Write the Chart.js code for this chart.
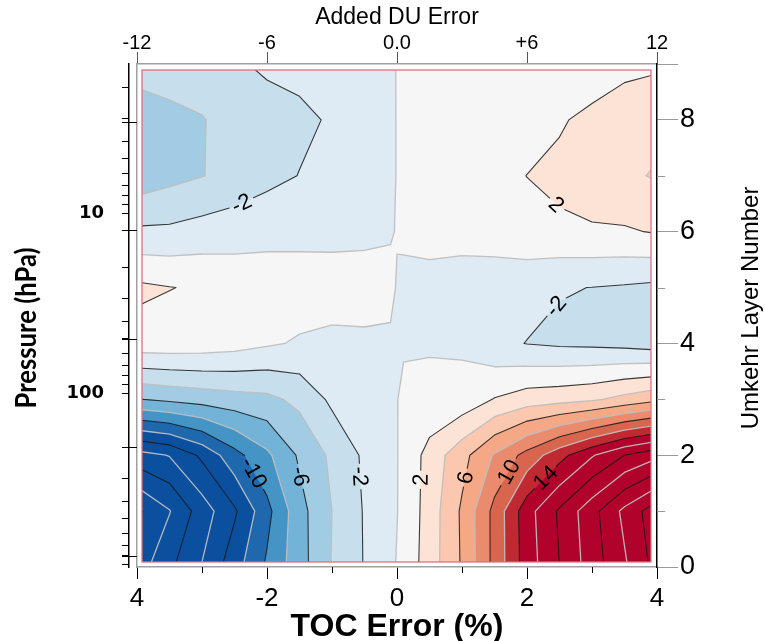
<!DOCTYPE html>
<html>
<head>
<meta charset="utf-8">
<script src="https://cdn.jsdelivr.net/npm/chart.js"></script>
<style>
html,body{margin:0;padding:0;background:#fff;}
canvas{display:block;}
</style>
</head>
<body>
<canvas id="c" width="765" height="641"></canvas>
<script>
// ---------------- data ----------------
const tocError = [-4,-3.5,-3,-2.5,-2,-1.5,-1,-0.5,-0.1,0,0.1,0.5,1,1.5,2,2.5,3,3.5,4];
const umkehrLayers = [0,1,2,3,4,5,6,7,8,9];
const layer0 = [-21.0,-18.4,-15.9,-12.8,-9.7,-6.8,-3.9,-1.9,-0.35,0.1,0.6,3.0,6.2,10.6,15.0,18.0,21.0,23.7,26.8];
const layer1 = [-22.4,-20.1,-17.0,-14.3,-10.6,-6.7,-4.0,-1.85,-0.4,-0.05,0.45,2.9,6.3,10.6,15.2,18.3,21.3,24.5,27.3];
const layer2 = [-16.8,-15.9,-13.6,-10.7,-8.4,-5.7,-3.6,-1.67,-0.4,-0.05,0.35,2.8,5.3,8.2,10.7,13.3,15.8,18.0,19.5];
const layer3 = [-6.1,-5.6,-5.2,-4.8,-4.5,-3.5,-1.6,-0.8,-0.25,-0.05,0.3,0.3,0.7,2.1,3.0,3.3,3.7,4.6,5.5];
const layer4 = [1.2,1.2,1.1,0.8,0.25,-0.2,-0.6,-0.5,-0.6,-0.4,-0.15,-0.1,-0.3,-1.5,-2.05,-2.3,-2.4,-2.6,-3.0];
const layer5 = [2.4,2.05,1.8,1.15,0.82,1.0,1.2,1.2,1.0,-0.3,-0.35,-0.4,-0.8,-1.1,-1.3,-1.9,-2.02,-2.2,-2.46];
const layer6 = [-1.64,-1.6,-1.2,-0.77,-0.46,-0.56,-0.7,-0.6,-0.3,0.2,0.25,0.4,0.6,0.9,1.3,1.65,1.75,1.8,2.14];
const layer7 = [-5.3,-4.6,-4.05,-3.5,-2.6,-1.95,-1.3,-0.9,-0.25,0.05,0.15,0.6,1.0,1.4,2.02,2.45,3.2,3.6,4.2];
const layer8 = [-4.8,-4.5,-4.1,-3.3,-3.0,-2.4,-1.8,-1.0,-0.25,0.05,0.15,0.5,0.8,1.1,1.2,1.8,2.5,3.0,3.4];
const layer9 = [-3.4,-3.1,-3.0,-2.3,-1.6,-1.45,-1.0,-0.7,-0.2,0.05,0.12,0.4,0.6,0.7,0.7,0.8,0.8,1.5,1.7];
const layerRows = [layer0,layer1,layer2,layer3,layer4,layer5,layer6,layer7,layer8,layer9];

const contourLevels = [-24,-22,-20,-18,-16,-14,-12,-10,-8,-6,-4,-2,0,2,4,6,8,10,12,14,16,18,20,22,24,26,28];
const contourLabels = [
  {level:-2, x:-2.37, layer:6.45},
  {level:2, x:2.45, layer:6.48},
  {level:-2, x:2.48, layer:4.63},
  {level:-10, x:-2.26, layer:1.65},
  {level:-6, x:-1.49, layer:1.62},
  {level:-2, x:-0.57, layer:1.62},
  {level:2, x:0.37, layer:1.56},
  {level:6, x:1.09, layer:1.59},
  {level:10, x:1.75, layer:1.68},
  {level:14, x:2.32, layer:1.56}
];

const duTicks = [-12,-6,0,6,12];
const duTickLabels = ['-12','-6','0.0','+6','12'];
const tocTicks = [-4,-2,0,2,4];
const tocTickLabels = ['4','-2','0','2','4'];
const tocMinorTicks = [-3,-1,1,3];
const layerTicks = [0,2,4,6,8,9];
const layerMinorTicks = [1,3,5,7];
const pressureTicks = [2,3,4,5,6,7,8,9,10,20,30,40,50,60,70,80,90,100,200,300,400,500,600,700,800,900];
const pressureLabels = [10,100];
const layerBoundaryPressures = [800,200,50,12.5,3.125];

// ---------------- styles ----------------
const bandPalette = {
  '-12':'#2068ad','-10':'#4494c6','-8':'#74b3d8','-6':'#a2cce3','-4':'#c7dfec','-2':'#deebf4',
  '0':'#f6f6f6','2':'#fde3d5','4':'#fbc7ae','6':'#f4a886','8':'#ea8b6d','10':'#d8664f','12':'#c02932'
};
function bandColor(t){
  if (t < -12) return '#0b4f9f';
  if (t >= 14) return '#b1022b';
  return bandPalette[String(t)];
}
function isBlackLevel(t){ return Math.abs(t % 4) === 2; }

Chart.defaults.color = '#000';
Chart.defaults.font.family = '"Liberation Sans", Arial, sans-serif';

const points = [];
umkehrLayers.forEach((L, j) => {
  tocError.forEach((x, i) => points.push({x: x, y: L, v: layerRows[j][i]}));
});

function clipCell(poly, t){
  const out = [], events = [];
  const n = poly.length;
  for (let k = 0; k < n; k++){
    const a = poly[k], b = poly[(k+1)%n];
    const ain = a.v >= t, bin = b.v >= t;
    if (ain) out.push(a);
    if (ain !== bin){
      const f = (t - a.v)/(b.v - a.v);
      const p = {x: a.x + f*(b.x-a.x), y: a.y + f*(b.y-a.y), v: t};
      out.push(p);
      events.push({exit: ain, p: p});
    }
  }
  const segs = [];
  const m = events.length;
  for (let k = 0; k < m; k++){
    if (events[k].exit){ segs.push([events[k].p, events[(k+1)%m].p]); }
  }
  return {out, segs};
}

function nearestOnSegs(segs, px, py){
  let best = null, bd = Infinity;
  for (const s of segs){
    const p = s[0], q = s[1];
    const dx = q.x-p.x, dy = q.y-p.y, L2 = dx*dx+dy*dy;
    let u = L2 > 0 ? ((px-p.x)*dx + (py-p.y)*dy)/L2 : 0;
    u = Math.max(0, Math.min(1, u));
    const x = p.x+u*dx, y = p.y+u*dy, d = (x-px)*(x-px)+(y-py)*(y-py);
    if (d < bd && L2 > 0.01){ bd = d; best = {x, y, a: Math.atan2(dy, dx)}; }
  }
  return best;
}

function frameOf(ca){ return {l: ca.left+5, r: ca.right-6, t: ca.top+6, b: ca.bottom-5}; }

const contourPlugin = {
  id: 'contours',
  beforeDraw(chart){
    const ctx = chart.ctx;
    ctx.save(); ctx.fillStyle = '#fff'; ctx.fillRect(0,0,chart.width,chart.height); ctx.restore();
  },
  beforeDatasetsDraw(chart){
    const ctx = chart.ctx;
    const xs = chart.scales.x, ys = chart.scales.yR;
    const fr = frameOf(chart.chartArea);
    const data = chart.data.datasets[0].data;
    const nx = tocError.length, ny = umkehrLayers.length;
    const P = (i,j) => { const d = data[j*nx+i]; return {x: xs.getPixelForValue(d.x), y: ys.getPixelForValue(d.y), v: d.v}; };
    const G = [];
    for (let j = 0; j < ny; j++){ G.push([]); for (let i = 0; i < nx; i++) G[j].push(P(i,j)); }

    ctx.save();
    ctx.beginPath(); ctx.rect(fr.l, fr.t, fr.r-fr.l, fr.b-fr.t); ctx.clip();
    ctx.fillStyle = bandColor(-Infinity);
    ctx.fillRect(fr.l, fr.t, fr.r-fr.l, fr.b-fr.t);

    const segsByLevel = {};
    for (const t of contourLevels){
      ctx.beginPath();
      const segs = [];
      for (let j = 0; j < ny-1; j++){
        for (let i = 0; i < nx-1; i++){
          const poly = [G[j][i], G[j][i+1], G[j+1][i+1], G[j+1][i]];
          const r = clipCell(poly, t);
          if (r.out.length >= 3){
            ctx.moveTo(r.out[0].x, r.out[0].y);
            for (let k = 1; k < r.out.length; k++) ctx.lineTo(r.out[k].x, r.out[k].y);
            ctx.closePath();
          }
          for (const s of r.segs) segs.push(s);
        }
      }
      ctx.fillStyle = bandColor(t);
      ctx.fill();
      segsByLevel[t] = segs;
    }

    // label placement
    const labelFont = '22px "Liberation Sans", Arial, sans-serif';
    ctx.font = labelFont;
    const placed = [];
    for (const lab of contourLabels){
      const segs = segsByLevel[lab.level] || [];
      const nb = nearestOnSegs(segs, xs.getPixelForValue(lab.x), ys.getPixelForValue(lab.layer));
      if (!nb) continue;
      let a = nb.a;
      while (a > Math.PI/2) a -= Math.PI;
      while (a <= -Math.PI/2) a += Math.PI;
      const txt = String(lab.level);
      placed.push({x: nb.x, y: nb.y, a: a, txt: txt, w: ctx.measureText(txt).width, h: 17});
    }

    // contour lines with gaps under labels
    ctx.save();
    ctx.beginPath();
    ctx.rect(fr.l-2, fr.t-2, fr.r-fr.l+4, fr.b-fr.t+4);
    for (const L of placed){
      const hw = L.w/2 + 3, hh = L.h/2;
      const c = Math.cos(L.a), s = Math.sin(L.a);
      const pts = [[-hw,-hh],[hw,-hh],[hw,hh],[-hw,hh]].map(q => [L.x + q[0]*c - q[1]*s, L.y + q[0]*s + q[1]*c]);
      ctx.moveTo(pts[0][0], pts[0][1]);
      for (let k = 1; k < 4; k++) ctx.lineTo(pts[k][0], pts[k][1]);
      ctx.closePath();
    }
    ctx.clip('evenodd');
    ctx.lineCap = 'round'; ctx.lineJoin = 'round';
    for (const t of contourLevels){
      const segs = segsByLevel[t];
      if (!segs || !segs.length) continue;
      ctx.beginPath();
      for (const s of segs){ ctx.moveTo(s[0].x, s[0].y); ctx.lineTo(s[1].x, s[1].y); }
      if (isBlackLevel(t)){ ctx.strokeStyle = 'rgba(25,25,25,0.85)'; ctx.lineWidth = 1.1; }
      else { ctx.strokeStyle = 'rgba(190,190,190,0.95)'; ctx.lineWidth = 1.3; }
      ctx.stroke();
    }
    ctx.restore();

    // labels
    ctx.fillStyle = '#000';
    ctx.font = labelFont;
    ctx.textAlign = 'center'; ctx.textBaseline = 'middle';
    for (const L of placed){
      ctx.save(); ctx.translate(L.x, L.y); ctx.rotate(L.a); ctx.fillText(L.txt, 0, 1); ctx.restore();
    }
    ctx.restore();

    // frame
    ctx.save();
    ctx.strokeStyle = '#e07080'; ctx.lineWidth = 1.3;
    ctx.strokeRect(fr.l, fr.t, fr.r-fr.l, fr.b-fr.t);
    ctx.restore();
  },
  afterDraw(chart){
    const ctx = chart.ctx, ca = chart.chartArea;
    const xs = chart.scales.x, yR = chart.scales.yR, yP = chart.scales.yP;
    ctx.save();
    ctx.lineWidth = 1;
    ctx.strokeStyle = '#000';
    ctx.beginPath();
    for (const v of tocMinorTicks){ const px = Math.round(xs.getPixelForValue(v))+0.5; ctx.moveTo(px, ca.bottom); ctx.lineTo(px, ca.bottom+6); }
    for (const p of layerBoundaryPressures){ const py = Math.round(yP.getPixelForValue(p))+0.5; ctx.moveTo(yP.right-7, py); ctx.lineTo(ca.left, py); }
    ctx.stroke();
    ctx.strokeStyle = '#999';
    ctx.beginPath();
    for (const v of layerMinorTicks){ const py = Math.round(yR.getPixelForValue(v))+0.5; ctx.moveTo(ca.right, py); ctx.lineTo(ca.right+8, py); }
    ctx.stroke();

    // vertical axis titles
    ctx.fillStyle = '#000';
    ctx.textAlign = 'center'; ctx.textBaseline = 'middle';
    ctx.font = 'bold 28px Lato, "Open Sans", sans-serif';
    const w = ctx.measureText('Pressure (hPa)').width;
    ctx.save(); ctx.translate(27, 328); ctx.rotate(-Math.PI/2); ctx.scale(161/w, 1);
    ctx.fillText('Pressure (hPa)', 0, 0); ctx.restore();
    ctx.font = '24px "Liberation Sans", Arial, sans-serif';
    ctx.save(); ctx.translate(751, 308); ctx.rotate(-Math.PI/2); ctx.fillText('Umkehr Layer Number', 0, 0); ctx.restore();
    ctx.restore();
  }
};

const chart = new Chart(document.getElementById('c'), {
  type: 'scatter',
  data: {
    datasets: [{
      label: 'TOC error impact',
      data: points,
      xAxisID: 'x',
      yAxisID: 'yR',
      pointRadius: 0,
      pointHoverRadius: 0,
      showLine: false
    }]
  },
  options: {
    responsive: false,
    devicePixelRatio: 1,
    animation: false,
    events: [],
    layout: {padding: 0},
    plugins: {legend: {display: false}, tooltip: {enabled: false}, title: {display: false}},
    scales: {
      x: {
        type: 'linear', position: 'bottom', min: -4, max: 4,
        afterBuildTicks: s => { s.ticks = tocTicks.map(v => ({value: v})); },
        afterFit: s => { s.height = 74; },
        ticks: {autoSkip: false, maxRotation: 0, minRotation: 0, padding: 4,
                font: {size: 26, family: '"Liberation Sans", Arial, sans-serif'}, color: '#000',
                callback: (v, i) => tocTickLabels[i]},
        grid: {display: true, drawOnChartArea: false, drawTicks: true, tickLength: 12, tickColor: '#000', tickWidth: 1},
        border: {display: true, color: '#a0a0a0', width: 1.5},
        title: {display: true, text: 'TOC Error (%)', color: '#000',
                font: {size: 32, weight: 'bold', family: '"Liberation Sans", Arial, sans-serif'},
                padding: {top: 0, bottom: -5}}
      },
      x2: {
        type: 'linear', axis: 'x', position: 'top', min: -12, max: 12,
        afterBuildTicks: s => { s.ticks = duTicks.map(v => ({value: v})); },
        afterFit: s => { s.height = 64; },
        ticks: {autoSkip: false, maxRotation: 0, minRotation: 0, padding: -3,
                font: {size: 20, family: '"Liberation Sans", Arial, sans-serif'}, color: '#000',
                callback: (v, i) => duTickLabels[i]},
        grid: {display: true, drawOnChartArea: false, drawTicks: true, tickLength: 12, tickColor: '#555', tickWidth: 1},
        border: {display: true, color: '#a0a0a0', width: 1.5},
        title: {display: true, text: 'Added DU Error', color: '#000',
                font: {size: 23, family: '"Liberation Sans", Arial, sans-serif'},
                padding: {top: 4, bottom: 0}}
      },
      yL: {
        type: 'linear', axis: 'y', position: 'left', min: 0, max: 9, weight: 0,
        afterFit: s => { s.width = 8; },
        ticks: {display: false},
        grid: {display: true, drawOnChartArea: false, drawTicks: false},
        border: {display: true, color: '#a0a0a0', width: 1.5}
      },
      yP: {
        type: 'logarithmic', axis: 'y', position: 'left', reverse: true, min: 1.486, max: 926, weight: 1,
        afterBuildTicks: s => { s.ticks = pressureTicks.map(v => ({value: v})); },
        afterFit: s => { s.width = 129; },
        ticks: {autoSkip: false, padding: 18,
                font: {size: 18, weight: 'bold', family: '"DejaVu Sans", Verdana, sans-serif'}, color: '#000',
                callback: v => pressureLabels.includes(v) ? String(v) : ''},
        grid: {display: true, drawOnChartArea: false, drawTicks: true, tickLength: 7, tickColor: '#000', tickWidth: 1},
        border: {display: true, color: '#000', width: 1.5}
      },
      yR: {
        type: 'linear', axis: 'y', position: 'right', min: 0, max: 9,
        afterBuildTicks: s => { s.ticks = layerTicks.map(v => ({value: v})); },
        afterFit: s => { s.width = 108; },
        ticks: {autoSkip: false, padding: 2,
                font: {size: 27, family: '"Liberation Sans", Arial, sans-serif'}, color: '#000',
                callback: v => (v === 9 ? '' : String(v))},
        grid: {display: true, drawOnChartArea: false, drawTicks: true, tickLength: 21, tickColor: '#999', tickWidth: 1},
        border: {display: true, color: '#000', width: 1.5}
      }
    }
  },
  plugins: [contourPlugin]
});
</script>
</body>
</html>
